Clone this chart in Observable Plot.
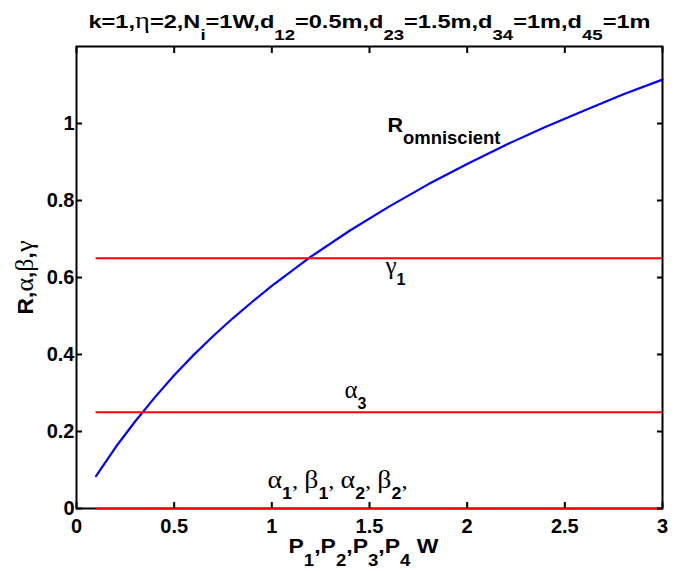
<!DOCTYPE html>
<html><head><meta charset="utf-8">
<script src="https://cdn.jsdelivr.net/npm/d3@7"></script>
<script src="https://cdn.jsdelivr.net/npm/@observablehq/plot@0.6"></script>
<style>body{margin:0;background:#fff}</style>
</head><body><div id="chart"></div>
<script>
// ---- data ----
const powerW = [0.1,0.2,0.3,0.4,0.5,0.6,0.7,0.8,0.9,1.0,1.2,1.4,1.6,1.8,2.0,2.2,2.4,2.6,2.8,3.0];
const rOmniscient = [0.084,0.159,0.226,0.288,0.346,0.399,0.448,0.494,0.537,0.578,0.654,0.722,0.784,0.842,0.895,0.945,0.991,1.034,1.076,1.114];
const thresholdNames = ["γ1","α3","α1,β1,α2,β2"];
const thresholdValues = [0.65,0.25,0];
const xTicks = [0,0.5,1,1.5,2,2.5,3];
const yTicks = [0,0.2,0.4,0.6,0.8,1];
const titleText = "k=1,η=2,N_i=1W,d_{12}=0.5m,d_{23}=1.5m,d_{34}=1m,d_{45}=1m";
const xLabel = "P_1,P_2,P_3,P_4 W";
const yLabel = "R,α,β,γ";
const annotationText = ["R_{omniscient}","γ_1","α_3","α_1, β_1, α_2, β_2,"];
const annotationX = [1.592,1.582,1.372,0.978];
const annotationY = [0.979,0.608,0.288,0.052];

const sans = "'Liberation Sans', Arial, sans-serif";
const serif = "'Liberation Serif', 'Times New Roman', serif";

const curve = powerW.map((p, i) => ({p, r: rOmniscient[i]}));
const thresholds = thresholdValues.map((v, i) => ({name: thresholdNames[i], v}));
const annotations = annotationText.map((t, i) => ({t, x: annotationX[i], y: annotationY[i]}));

const chart = Plot.plot({
  width: 689, height: 571,
  marginLeft: 76, marginRight: 27, marginTop: 46, marginBottom: 63,
  style: {fontFamily: sans, fontSize: "20px", fontWeight: "bold", background: "#fff", color: "#000"},
  x: {domain: [0, 3]},
  y: {domain: [0, 1.2]},
  marks: [
    Plot.line(curve, {x: "p", y: "r", stroke: "#0000ff", strokeWidth: 2.2}),
    Plot.frame({stroke: "#000", strokeWidth: 2}),
    Plot.ruleY(thresholds, {y: "v", x1: powerW[0], x2: powerW[powerW.length - 1], stroke: "#ff0000", strokeWidth: 2.2}),
    Plot.axisX(xTicks, {anchor: "bottom", tickSize: -6, tickPadding: 16, strokeWidth: 2, fontSize: 20, tickFormat: d => String(d), label: null}),
    Plot.axisX(xTicks, {anchor: "top", tickSize: -6, strokeWidth: 2, tickFormat: () => "", label: null}),
    Plot.axisY(yTicks, {anchor: "left", tickSize: -6, tickPadding: 8, strokeWidth: 2, fontSize: 20, tickFormat: d => String(d), label: null}),
    Plot.axisY(yTicks, {anchor: "right", tickSize: -6, strokeWidth: 2, tickFormat: () => "", label: null}),
    Plot.text(annotations, {x: "x", y: "y", text: "t", textAnchor: "start", lineAnchor: "bottom"}),
    Plot.text([titleText], {frameAnchor: "top", textAnchor: "middle", dy: -19, lineAnchor: "bottom"}),
    Plot.text([xLabel], {frameAnchor: "bottom", textAnchor: "middle", dx: -6, dy: 44, lineAnchor: "bottom"}),
    Plot.text([yLabel], {frameAnchor: "left", textAnchor: "middle", rotate: -90, dx: -44, lineAnchor: "bottom"})
  ]
});

// rich text: subscripts, serif Greek letters, and overall widths measured on the reference
const specs = {};
specs[titleText] = {base: 19, baseFam: sans, baseW: "bold", greek: 23, sub: 15, shift: 12, len: 562};
specs[xLabel] = {base: 21, baseFam: sans, baseW: "bold", greek: 24, sub: 17, shift: 13, len: 150};
specs[yLabel] = {base: 22, baseFam: sans, baseW: "bold", greek: 25, sub: 16, shift: 12, len: 74};
specs[annotationText[0]] = {base: 21, baseFam: sans, baseW: "bold", greek: 24, sub: 18, shift: 12, len: 113};
specs[annotationText[1]] = {base: 22, baseFam: serif, baseW: "normal", greek: 25, sub: 16, shift: 11};
specs[annotationText[2]] = {base: 22, baseFam: serif, baseW: "normal", greek: 25, sub: 16, shift: 11};
specs[annotationText[3]] = {base: 22, baseFam: serif, baseW: "normal", greek: 25, sub: 16, shift: 11, len: 140};

function parse(s) {
  const parts = []; let i = 0, buf = "";
  while (i < s.length) {
    if (s[i] === "_") {
      if (buf) { parts.push({t: buf, sub: false}); buf = ""; }
      let sub;
      if (s[i + 1] === "{") { const j = s.indexOf("}", i); sub = s.slice(i + 2, j); i = j + 1; }
      else { sub = s[i + 1]; i += 2; }
      parts.push({t: sub, sub: true});
    } else { buf += s[i]; i++; }
  }
  if (buf) parts.push({t: buf, sub: false});
  return parts;
}
const isGreek = c => /[\u0370-\u03FF]/.test(c);
const NS = "http://www.w3.org/2000/svg";
d3.select(chart).selectAll("text").each(function() {
  const s = this.textContent;
  const spec = specs[s];
  if (!spec) return;
  while (this.firstChild) this.removeChild(this.firstChild);
  let inSub = false;
  let pendingDy = 0;
  for (const part of parse(s)) {
    const runs = [];
    for (const c of part.t) {
      const g = isGreek(c);
      if (runs.length && runs[runs.length - 1].g === g) runs[runs.length - 1].t += c;
      else runs.push({t: c, g});
    }
    if (part.sub && !inSub) { pendingDy = spec.shift; inSub = true; }
    else if (!part.sub && inSub) { pendingDy = -spec.shift; inSub = false; }
    for (const r of runs) {
      const ts = document.createElementNS(NS, "tspan");
      ts.textContent = r.t;
      if (r.g) { ts.setAttribute("font-family", serif); ts.setAttribute("font-weight", "normal"); ts.setAttribute("font-size", part.sub ? spec.sub : spec.greek); }
      else if (part.sub) { ts.setAttribute("font-family", sans); ts.setAttribute("font-weight", "bold"); ts.setAttribute("font-size", spec.sub); }
      else { ts.setAttribute("font-family", spec.baseFam); ts.setAttribute("font-weight", spec.baseW); ts.setAttribute("font-size", spec.base); }
      if (pendingDy) { ts.setAttribute("dy", pendingDy); pendingDy = 0; }
      this.appendChild(ts);
    }
  }
  if (spec.len) { this.setAttribute("textLength", spec.len); this.setAttribute("lengthAdjust", "spacingAndGlyphs"); }
});

document.getElementById("chart").appendChild(chart);
</script>
</body></html>
